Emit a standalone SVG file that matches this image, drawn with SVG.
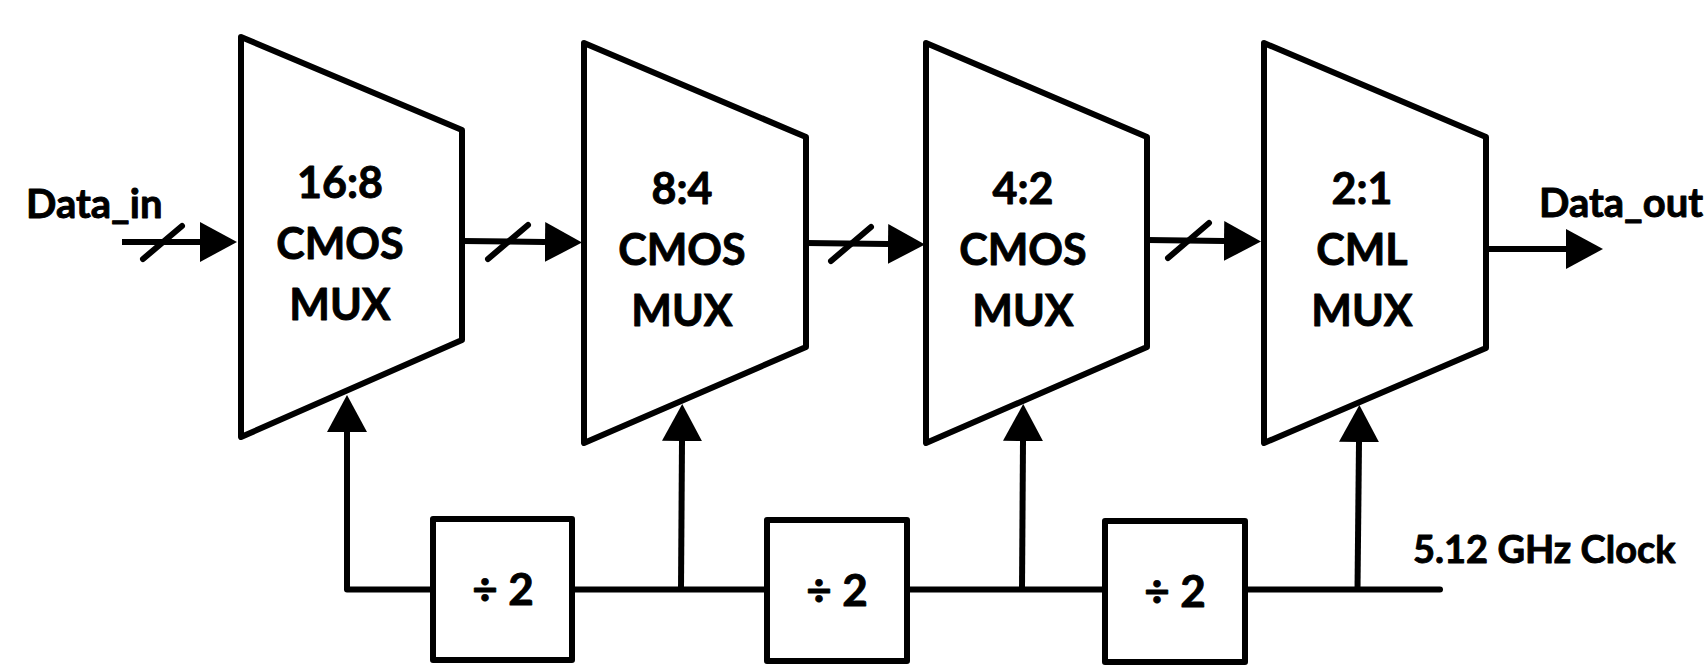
<svg xmlns="http://www.w3.org/2000/svg" width="1705" height="667" viewBox="0 0 1705 667">
  <style>
    .blk { fill: #fff; stroke: #000; stroke-width: 6; stroke-linejoin: round; }
    .wire { fill: none; stroke: #000; stroke-width: 6; stroke-linejoin: round; }
    .bus { fill: none; stroke: #000; stroke-width: 6; stroke-linecap: round; }
    .lbl { font-family: Lato, "Open Sans", "Liberation Sans", sans-serif; font-weight: bold; fill: #000; stroke: #000; stroke-width: 0.9; stroke-linejoin: round; }
    .mux { font-size: 43px; text-anchor: middle; }
    .div { font-size: 44px; text-anchor: middle; }
    .pin { font-size: 40px; }
    .clk { font-size: 38px; }
  </style>
  <defs>
    <marker id="arrow" markerUnits="userSpaceOnUse" viewBox="0 -21 38 42" refX="0" refY="0" markerWidth="38" markerHeight="42" orient="auto">
      <path d="M0,-20 L37,0 L0,20 Z" fill="#000"/>
    </marker>
  </defs>

  <rect width="1705" height="667" fill="#fff"/>

  <!-- serializer stages -->
  <g id="mux16to8">
    <polygon class="blk" points="241,37 462,130 462,340 241,437"/>
    <text class="lbl mux" x="340" y="198">16:8</text>
    <text class="lbl mux" x="340" y="259">CMOS</text>
    <text class="lbl mux" x="340" y="320">MUX</text>
  </g>
  <g id="mux8to4">
    <polygon class="blk" points="584,43 806,137 806,347 584,443"/>
    <text class="lbl mux" x="682" y="204">8:4</text>
    <text class="lbl mux" x="682" y="265">CMOS</text>
    <text class="lbl mux" x="682" y="326">MUX</text>
  </g>
  <g id="mux4to2">
    <polygon class="blk" points="926,43 1147,137 1147,347 926,443"/>
    <text class="lbl mux" x="1023" y="204">4:2</text>
    <text class="lbl mux" x="1023" y="265">CMOS</text>
    <text class="lbl mux" x="1023" y="326">MUX</text>
  </g>
  <g id="mux2to1">
    <polygon class="blk" points="1264,43 1486,137 1486,348 1264,443"/>
    <text class="lbl mux" x="1362" y="204">2:1</text>
    <text class="lbl mux" x="1362" y="265">CML</text>
    <text class="lbl mux" x="1362" y="326">MUX</text>
  </g>

  <!-- clock dividers -->
  <g id="div1">
    <rect class="blk" x="433" y="519" width="139" height="141"/>
    <text class="lbl div" x="503" y="605">÷ 2</text>
  </g>
  <g id="div2">
    <rect class="blk" x="767" y="520" width="140" height="141"/>
    <text class="lbl div" x="837" y="606">÷ 2</text>
  </g>
  <g id="div3">
    <rect class="blk" x="1105" y="521" width="140" height="141"/>
    <text class="lbl div" x="1175" y="607">÷ 2</text>
  </g>

  <!-- port labels -->
  <g id="data-in">
    <text class="lbl pin" x="26" y="218">Data_in</text>
  </g>
  <g id="data-out">
    <text class="lbl pin" x="1539" y="217">Data_out</text>
  </g>
  <g id="clock-in">
    <text class="lbl clk" x="1413" y="563">5.12 GHz Clock</text>
  </g>

  <!-- connectors -->
  <g id="connectors">
    <!-- data path -->
    <path class="wire" d="M122,242 L200,242" marker-end="url(#arrow)"/>
    <path class="bus" d="M143,259 L182,226"/>
    <path class="wire" d="M462,241 L545,242" marker-end="url(#arrow)"/>
    <path class="bus" d="M488,259 L528,225"/>
    <path class="wire" d="M806,243 L888,244" marker-end="url(#arrow)"/>
    <path class="bus" d="M831,261 L871,227"/>
    <path class="wire" d="M1147,240 L1224,241" marker-end="url(#arrow)"/>
    <path class="bus" d="M1168,258 L1209,223"/>
    <path class="wire" d="M1486,249 L1566,249" marker-end="url(#arrow)"/>
    <!-- clock tree -->
    <path class="wire" d="M433,589.5 H347 V432" marker-end="url(#arrow)"/>
    <path class="wire" d="M572,589.5 H767"/>
    <path class="wire" d="M907,589.5 H1105"/>
    <path class="bus" d="M1245,589.5 H1440"/>
    <path class="wire" d="M681,589.5 L682,441" marker-end="url(#arrow)"/>
    <path class="wire" d="M1022,589.5 L1023,441" marker-end="url(#arrow)"/>
    <path class="wire" d="M1357.5,589.5 L1359,442" marker-end="url(#arrow)"/>
  </g>
</svg>
